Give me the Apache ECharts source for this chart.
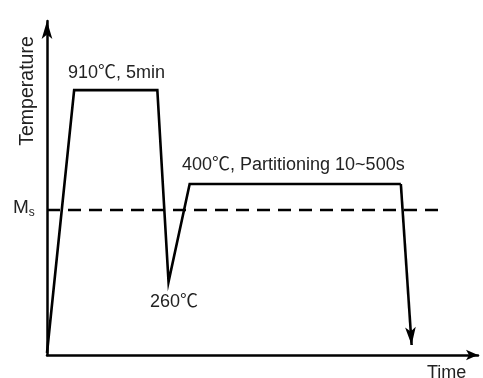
<!DOCTYPE html>
<html>
<head>
<meta charset="utf-8">
<script src="https://cdn.jsdelivr.net/npm/echarts@6/dist/echarts.min.js"></script>
<style>html,body{margin:0;padding:0;background:#fff}#c{width:483px;height:378px}</style>
</head>
<body>
<div id="c"></div>
<script>
// schematic heat-treatment path (arbitrary units, 0-100)
const cycleX = [0, 6.3, 25.6, 28.2, 33.1, 82.1];
const cycleY = [0.6, 79.3, 79.3, 21.9, 51.2, 51.2];
const quenchEnd = [84.6, 3.0];
const msLevel = 43.4;
const msEnd = 90.9;
const labels = {
  austen: '910℃, 5min',
  partition: '400℃, Partitioning 10~500s',
  quench: '260℃',
  yName: 'Temperature',
  xName: 'Time'
};

const FONT = '"Liberation Sans", Arial, "Noto Sans CJK SC", sans-serif';
const chart = echarts.init(document.getElementById('c'));
const cycle = cycleX.map((x, i) => [x, cycleY[i]]);

chart.setOption({
  animation: false,
  grid: { left: 47, right: 5, top: 21, bottom: 23 },
  xAxis: {
    type: 'value', min: 0, max: 100,
    axisLine: { show: true, lineStyle: { color: '#000', width: 2.5 }, symbol: ['none', 'arrow'], symbolSize: [8, 12] },
    axisTick: { show: false }, axisLabel: { show: false }, splitLine: { show: false }
  },
  yAxis: {
    type: 'value', min: 0, max: 100,
    axisLine: { show: true, lineStyle: { color: '#000', width: 2.5 }, symbol: ['none', 'arrow'], symbolSize: [8, 18] },
    axisTick: { show: false }, axisLabel: { show: false }, splitLine: { show: false }
  },
  series: [
    {
      type: 'line', data: cycle, symbol: 'none',
      lineStyle: { color: '#000', width: 2.6, join: 'miter' },
      markLine: {
        silent: true, symbol: ['none', 'arrow'], symbolSize: [8, 18],
        lineStyle: { color: '#000', width: 2.6, type: 'solid' },
        itemStyle: { color: '#000' },
        label: { show: false },
        data: [[{ coord: cycle[cycle.length - 1] }, { coord: quenchEnd }]]
      }
    },
    {
      type: 'line', data: [[0, msLevel], [msEnd, msLevel]], symbol: 'none',
      lineStyle: { color: '#000', width: 2.6, type: [13, 8] }
    }
  ],
  graphic: [
    { type: 'text', left: 68, top: 64, style: { text: labels.austen, font: '18px ' + FONT, fill: '#222' } },
    { type: 'text', left: 182, top: 156, style: { text: labels.partition, font: '18px ' + FONT, fill: '#222' } },
    { type: 'text', left: 150, top: 293, style: { text: labels.quench, font: '18px ' + FONT, fill: '#222' } },
    { type: 'text', x: 28, y: 91, rotation: Math.PI / 2, style: { text: labels.yName, font: '19.5px ' + FONT, fill: '#222', align: 'center', verticalAlign: 'middle' } },
    { type: 'text', left: 427, top: 364, style: { text: labels.xName, font: '18px ' + FONT, fill: '#222' } },
    { type: 'text', left: 13, top: 198, style: { text: '{m|M}{s|s}', rich: { m: { font: '19px ' + FONT, fill: '#222' }, s: { font: '12px ' + FONT, fill: '#222', padding: [10, 0, 0, 0] } } } }
  ]
});
</script>
</body>
</html>
